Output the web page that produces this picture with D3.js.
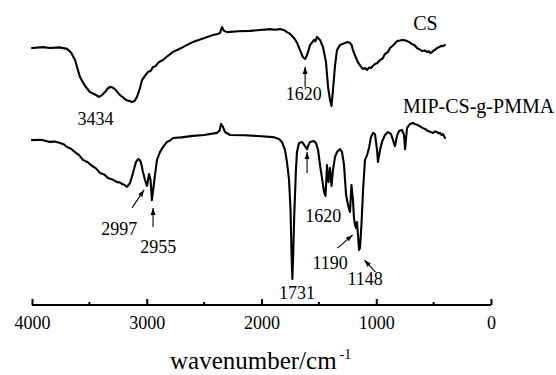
<!DOCTYPE html>
<html>
<head>
<meta charset="utf-8">
<script src="https://cdn.jsdelivr.net/npm/d3@7"></script>
<style>
  html, body { margin: 0; padding: 0; background: #fff; }
  svg { display: block; }
  svg text { font-family: "Liberation Serif", "Times New Roman", serif !important; fill: #000; }
</style>
</head>
<body>
<svg id="chart" width="556" height="375"></svg>
<script>
// FTIR spectrum of CS: [wavenumber (cm^-1), transmittance (offset, a.u.)]
const csSpectrum = [
  [4000, 84.0], [3900, 84.3], [3843, 84.0], [3760, 84.2], [3695, 83.7], [3660, 82.5],
  [3625, 80.0], [3582, 74.3], [3540, 71.5], [3495, 69.3], [3450, 68.5], [3416, 67.7],
  [3390, 68.3], [3364, 69.3], [3340, 70.5], [3320, 71.0], [3300, 70.9], [3277, 70.3],
  [3233, 68.3], [3205, 67.5], [3181, 66.7], [3150, 66.3], [3128, 66.0], [3105, 66.4],
  [3085, 67.7], [3060, 70.5], [3041, 73.3], [3015, 74.8], [2989, 76.0], [2965, 76.4],
  [2945, 77.7], [2925, 77.9], [2902, 79.0], [2880, 79.6], [2858, 80.0], [2815, 81.4],
  [2771, 82.7], [2730, 83.4], [2684, 84.3], [2640, 85.2], [2597, 86.0], [2510, 87.2],
  [2423, 88.3], [2390, 88.6], [2361, 89.0], [2350, 90.4], [2344, 91.0], [2335, 90.2],
  [2326, 89.7], [2300, 89.3], [2200, 89.6], [2100, 89.7], [2010, 90.0], [1926, 90.3],
  [1880, 90.1], [1839, 90.3], [1800, 89.9], [1778, 89.3], [1755, 88.8], [1734, 88.0],
  [1710, 87.0], [1690, 85.7], [1664, 83.3], [1640, 81.0], [1620, 80.3], [1600, 82.0],
  [1577, 85.0], [1560, 85.8], [1542, 86.7], [1530, 86.2], [1516, 87.7], [1490, 86.7],
  [1464, 84.3], [1438, 79.3], [1420, 71.0], [1403, 66.7], [1390, 64.7], [1377, 70.0],
  [1359, 78.3], [1342, 83.3], [1316, 85.0], [1295, 85.3], [1272, 85.7], [1250, 86.0],
  [1229, 85.7], [1215, 85.0], [1203, 83.3], [1190, 82.0], [1176, 80.7], [1160, 79.3],
  [1150, 78.7], [1130, 77.6], [1115, 77.0], [1095, 77.3], [1080, 76.7], [1062, 77.5],
  [1046, 77.3], [1025, 78.2], [1011, 78.7], [990, 79.0], [967, 80.0], [945, 80.5],
  [924, 82.0], [900, 82.6], [880, 84.0], [850, 85.0], [819, 86.3], [795, 86.5],
  [775, 86.7], [752, 86.6], [732, 86.3], [710, 85.9], [688, 85.3], [665, 84.9],
  [645, 84.0], [620, 83.5], [601, 83.0], [578, 83.2], [557, 82.7], [540, 82.9],
  [531, 82.3], [518, 82.5], [505, 83.0], [485, 83.5], [470, 84.0], [450, 84.3],
  [436, 84.7], [418, 84.6], [401, 85.0]
];

// FTIR spectrum of MIP-CS-g-PMMA: [wavenumber (cm^-1), transmittance (offset, a.u.)]
const mipSpectrum = [
  [4000, 53.3], [3920, 53.4], [3843, 52.7], [3800, 52.8], [3756, 52.3], [3720, 51.8],
  [3695, 51.0], [3660, 50.4], [3625, 49.3], [3590, 48.3], [3556, 46.7], [3515, 45.9],
  [3477, 44.7], [3440, 43.8], [3407, 42.3], [3370, 41.8], [3338, 40.7], [3300, 40.2],
  [3259, 39.3], [3235, 39.2], [3216, 38.7], [3195, 38.4], [3172, 37.7], [3146, 39.0],
  [3120, 42.3], [3094, 46.0], [3076, 47.0], [3060, 46.6], [3050, 45.7], [3033, 42.7],
  [3015, 40.0], [2998, 38.0], [2980, 42.0], [2967, 40.0], [2955, 33.3], [2940, 38.0],
  [2928, 41.7], [2911, 46.7], [2885, 49.3], [2858, 51.0], [2824, 52.7], [2800, 53.1],
  [2771, 54.0], [2700, 54.2], [2597, 54.7], [2500, 55.0], [2388, 55.7], [2365, 56.5],
  [2353, 58.7], [2336, 57.7], [2318, 56.0], [2274, 55.0], [2150, 54.9], [2000, 54.6],
  [1900, 54.3], [1848, 53.7], [1822, 52.7], [1795, 50.0], [1778, 46.0], [1760, 40.0],
  [1747, 30.0], [1738, 15.0], [1731, 7.0], [1724, 15.0], [1715, 28.0], [1708, 35.0],
  [1700, 43.3], [1691, 49.3], [1673, 52.3], [1647, 52.7], [1621, 51.3], [1603, 50.3],
  [1590, 51.7], [1577, 52.7], [1542, 53.0], [1525, 52.3], [1507, 50.0], [1490, 45.0],
  [1473, 40.7], [1455, 36.0], [1442, 34.7], [1429, 45.0], [1416, 39.3], [1403, 44.0],
  [1390, 38.0], [1377, 43.3], [1359, 47.7], [1342, 49.3], [1316, 50.3], [1298, 49.3],
  [1281, 45.0], [1263, 35.0], [1246, 31.7], [1229, 29.3], [1216, 38.3], [1203, 33.3],
  [1194, 27.3], [1185, 25.0], [1176, 24.0], [1168, 26.0], [1159, 21.7], [1150, 16.7],
  [1142, 17.3], [1129, 25.0], [1115, 36.7], [1098, 46.7], [1080, 48.3], [1063, 50.7],
  [1046, 54.3], [1028, 55.7], [1011, 55.3], [993, 50.0], [985, 46.0], [967, 50.0],
  [950, 52.7], [924, 55.0], [898, 56.0], [871, 55.3], [854, 53.3], [837, 51.3],
  [819, 54.7], [802, 56.3], [775, 56.7], [758, 55.0], [749, 50.3], [741, 53.5],
  [732, 57.3], [706, 58.7], [680, 59.0], [660, 58.6], [636, 58.3], [615, 57.8],
  [593, 57.3], [570, 56.9], [549, 56.3], [525, 56.0], [505, 55.7], [488, 56.2],
  [470, 56.0], [455, 55.5], [444, 55.7], [430, 55.0], [418, 55.3], [401, 54.0]
];

const seriesNames = ["CS", "MIP-CS-g-PMMA"];

// x axis: wavenumber, reversed
const xDomain = [4000, 0];
const xMajorTicks = [4000, 3000, 2000, 1000, 0];
const xMinorTicks = [3500, 2500, 1500, 500];

// peak labels: [text, label wavenumber, label value]
const peakLabels = [
  ["3434", 3447, 58.3],
  ["1620", 1632, 66.7],
  ["2997", 3240, 21.7],
  ["2955", 2900, 15.7],
  ["1620", 1462, 26.0],
  ["1190", 1402, 10.3],
  ["1148", 1097, 5.0],
  ["1731", 1690, 0.3]
];

// arrows: [tail wavenumber, tail value, head wavenumber, head value]
const peakArrows = [
  [1620, 71.0, 1620, 77.7],
  [3128, 30.7, 3023, 36.7],
  [2945, 24.3, 2945, 30.7],
  [1603, 42.3, 1603, 49.3],
  [1337, 17.3, 1206, 21.7],
  [1007, 9.3, 1103, 13.3]
];

const serif = '"Liberation Serif", "Times New Roman", serif';
const svg = d3.select("#chart");

const x = d3.scaleLinear().domain(xDomain).range([32, 491]);
const y = d3.scaleLinear().domain([0, 100]).range([300, 0]);
const axisY = 305;

// spectra
const line = d3.line()
  .x(d => x(d[0]))
  .y(d => y(d[1]))
  .curve(d3.curveLinear);

svg.selectAll("path.spectrum")
  .data([csSpectrum, mipSpectrum])
  .join("path")
  .attr("class", "spectrum")
  .attr("d", line)
  .attr("fill", "none")
  .attr("stroke", "#000")
  .attr("stroke-width", 2.1)
  .attr("stroke-linejoin", "round")
  .attr("stroke-linecap", "round");

// series names
svg.append("text")
  .attr("x", 425.5).attr("y", 30)
  .attr("text-anchor", "middle")
  .style("font-family", serif)
  .style("font-size", "20px")
  .text(seriesNames[0]);
svg.append("text")
  .attr("x", 403).attr("y", 113)
  .style("font-family", serif)
  .style("font-size", "20px")
  .text(seriesNames[1]);

// x axis with inward ticks
const gx = svg.append("g")
  .attr("transform", `translate(0,${axisY})`)
  .attr("font-family", serif);
gx.call(d3.axisBottom(x).tickValues(xMajorTicks).tickSize(-6).tickFormat(d3.format("d")))
  .call(g => g.attr("font-family", serif).attr("font-size", 18))
  .call(g => g.select(".domain").attr("stroke-width", 2).attr("d", `M${x(4000)},0H${x(0)}`))
  .call(g => g.selectAll(".tick line").attr("stroke-width", 2))
  .call(g => g.selectAll(".tick text")
    .attr("y", 24).attr("dy", 0)
    .style("font-family", serif)
    .style("font-size", "18px"));
gx.selectAll("line.minor")
  .data(xMinorTicks)
  .join("line")
  .attr("class", "minor")
  .attr("x1", d => x(d)).attr("x2", d => x(d))
  .attr("y1", 0).attr("y2", -3)
  .attr("stroke", "#000").attr("stroke-width", 2);

// axis title
const title = svg.append("text")
  .attr("x", 170).attr("y", 369)
  .style("font-family", serif)
  .style("font-size", "25px");
title.append("tspan").text("wavenumber/cm");
title.append("tspan").style("font-size", "14px").attr("dx", 3).attr("dy", -10).text("-1");

// peak labels
svg.selectAll("text.peak")
  .data(peakLabels)
  .join("text")
  .attr("class", "peak")
  .attr("x", d => x(d[1]))
  .attr("y", d => y(d[2]))
  .attr("text-anchor", "middle")
  .style("font-family", serif)
  .style("font-size", "18px")
  .text(d => d[0]);

// arrows
svg.append("defs").append("marker")
  .attr("id", "head")
  .attr("viewBox", "0 0 10 10")
  .attr("refX", 10).attr("refY", 5)
  .attr("markerWidth", 7).attr("markerHeight", 7)
  .attr("markerUnits", "userSpaceOnUse")
  .attr("orient", "auto")
  .append("path")
  .attr("d", "M0,1.5L10,5L0,8.5Z")
  .attr("fill", "#000");

svg.selectAll("line.arrow")
  .data(peakArrows)
  .join("line")
  .attr("class", "arrow")
  .attr("x1", d => x(d[0])).attr("y1", d => y(d[1]))
  .attr("x2", d => x(d[2])).attr("y2", d => y(d[3]))
  .attr("stroke", "#000")
  .attr("stroke-width", 1.1)
  .attr("marker-end", "url(#head)");
</script>
</body>
</html>
